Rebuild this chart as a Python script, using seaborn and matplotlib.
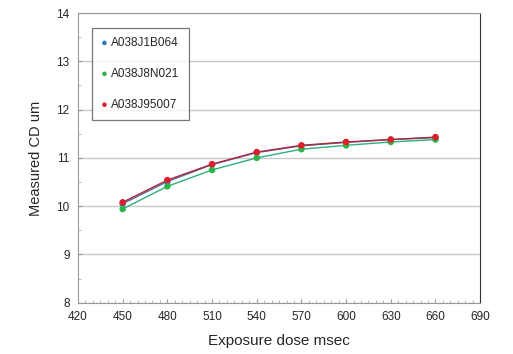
import matplotlib
matplotlib.use('Agg')
import matplotlib.pyplot as plt
from matplotlib.ticker import MultipleLocator
import seaborn as sns
import pandas as pd

dose = [450, 480, 510, 540, 570, 600, 630, 660]
cd_j1b064 = [10.05, 10.51, 10.86, 11.11, 11.25, 11.32, 11.38, 11.42]
cd_j8n021 = [9.94, 10.41, 10.75, 11.00, 11.18, 11.26, 11.33, 11.38]
cd_j95007 = [10.08, 10.54, 10.87, 11.12, 11.26, 11.33, 11.38, 11.43]
series = ['A038J1B064', 'A038J8N021', 'A038J95007']

df = pd.concat([
    pd.DataFrame({'dose': dose, 'cd': v, 'wafer': s})
    for s, v in zip(series, [cd_j1b064, cd_j8n021, cd_j95007])
])

sns.set_style('white')
plt.rcParams['font.family'] = ['Liberation Sans', 'DejaVu Sans']

fig, ax = plt.subplots(figsize=(5.13, 3.54), dpi=100)
fig.subplots_adjust(left=0.152, right=0.936, top=0.963, bottom=0.145)

line_cols = {'A038J1B064': '#4a6fa5', 'A038J8N021': '#2fae7a', 'A038J95007': '#b0283a'}
mark_cols = {'A038J1B064': '#2a7ab8', 'A038J8N021': '#2db34a', 'A038J95007': '#e01f2b'}

for s in series:
    sub = df[df['wafer'] == s]
    sns.lineplot(data=sub, x='dose', y='cd', ax=ax, color=line_cols[s], lw=1.0,
                 legend=False)
    sns.scatterplot(data=sub, x='dose', y='cd', ax=ax, color=mark_cols[s], s=22,
                    edgecolor='none', label=s, zorder=3)

ax.set_xlim(420, 690)
ax.set_ylim(8, 14)
ax.xaxis.set_major_locator(MultipleLocator(30))
ax.xaxis.set_minor_locator(MultipleLocator(5))
ax.yaxis.set_major_locator(MultipleLocator(1))
ax.yaxis.set_minor_locator(MultipleLocator(0.5))
ax.grid(axis='y', which='major', color='#c8c8c8', lw=1.0)
ax.set_axisbelow(True)
ax.tick_params(axis='both', which='major', direction='in', length=3, labelsize=8.5,
               color='#999999', pad=6)
ax.tick_params(axis='both', which='minor', direction='in', length=2, color='#aaaaaa')
ax.tick_params(axis='y', which='both', left=True)
ax.tick_params(axis='x', which='both', bottom=True)
for side in ['left', 'bottom', 'top']:
    ax.spines[side].set_color('#999999')
ax.spines['right'].set_color('#333333')
ax.set_xlabel('Exposure dose msec', fontsize=11, labelpad=8)
ax.set_ylabel('Measured CD um', fontsize=10.5, labelpad=10)

leg = ax.legend(loc='upper left', bbox_to_anchor=(0.035, 0.95), fontsize=8.5,
                frameon=True, fancybox=False, edgecolor='#555555',
                handlelength=0.5, handletextpad=0.3, labelspacing=1.6,
                borderpad=0.8, borderaxespad=0, markerscale=0.7)
leg.get_frame().set_linewidth(0.9)

plt.savefig('out.png', dpi=100)
plt.close()
